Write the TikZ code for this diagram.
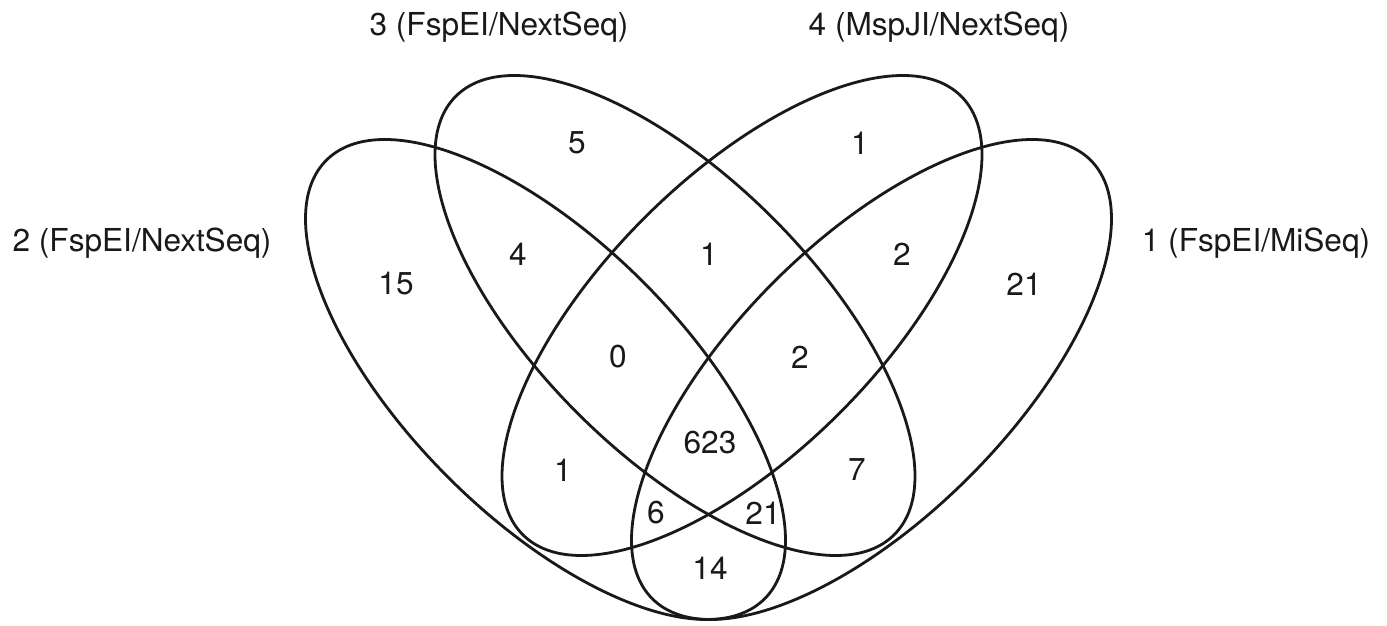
\documentclass[tikz,border=0pt]{standalone}
\usepackage{fontspec}
\setmainfont{TeX Gyre Heros}
\usepackage{xcolor}
\usetikzlibrary{positioning}

\begin{document}
\begin{tikzpicture}[x=0.5pt, y=0.5pt,
        setline/.style={line width=1.4pt, black!90},
        setname/.style={font=\fontsize{15.8}{18}\selectfont, text=black!90},
        count/.style={font=\fontsize{15.8}{18}\selectfont, text=black!90}]
                \useasboundingbox (0,0) rectangle (1387,626);
                % Ellipses
                \draw[setline, rotate around={45:(871.5,246.5)}] (871.5,246.5) ellipse [x radius=310, y radius=138];  % Set 1
                \draw[setline, rotate around={-45:(545.5,246.5)}] (545.5,246.5) ellipse [x radius=310, y radius=138]; % Set 2
                \draw[setline, rotate around={-45:(675,310.5)}] (675,310.5) ellipse [x radius=310, y radius=138];     % Set 3
                \draw[setline, rotate around={45:(742,310.5)}] (742,310.5) ellipse [x radius=310, y radius=138];      % Set 4

                % Set names
                \node[setname] (lab3) at (499, 599) {3 (FspEI/NextSeq)};
                \node[setname] (lab4) at (939, 599) {4 (MspJI/NextSeq)};
                \node[setname] (lab2) at (142, 383) {2 (FspEI/NextSeq)};
                \node[setname] (lab1) at (1256, 383) {1 (FspEI/MiSeq)};

                % Counts
                \node[count] (n5)   at (577, 483) {5};
                \node[count] (n1a)  at (860, 483) {1};
                \node[count] (n4)   at (518, 372) {4};
                \node[count] (n1b)  at (709, 372) {1};
                \node[count] (n2a)  at (902, 372) {2};
                \node[count] (n15)  at (396, 342) {15};
                \node[count] (n21a) at (1024, 342) {21};
                \node[count] (n0)   at (618, 269) {0};
                \node[count] (n2b)  at (800, 269) {2};
                \node[count] (n623) at (710, 183) {623};
                \node[count] (n1c)  at (563, 156) {1};
                \node[count] (n7)   at (857, 156) {7};
                \node[count] (n6)   at (656, 113) {6};
                \node[count] (n21b) at (763, 113) {21};
                \node[count] (n14)  at (710, 58) {14};
\end{tikzpicture}
\end{document}
